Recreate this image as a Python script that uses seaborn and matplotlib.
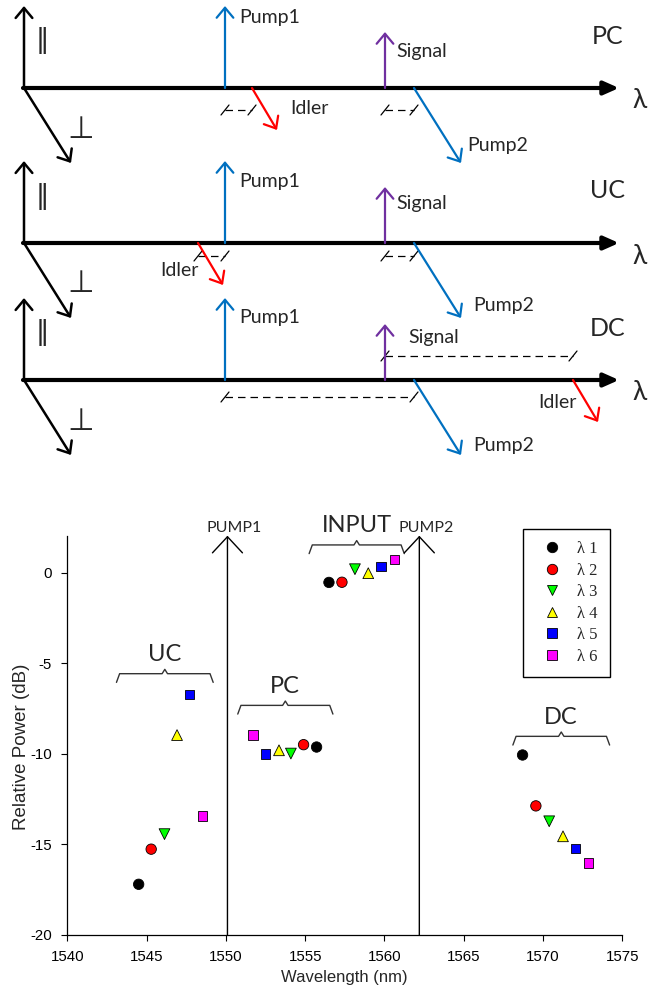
import matplotlib
matplotlib.use("Agg")
import matplotlib.pyplot as plt
import pandas as pd
import seaborn as sns

# ---------------------------------------------------------------- data ----
CHANNELS = ["λ 1", "λ 2", "λ 3", "λ 4", "λ 5", "λ 6"]

UC_WAVELENGTH = [1544.50, 1545.29, 1546.13, 1546.92, 1547.69, 1548.51]
UC_POWER = [-17.20, -15.26, -14.43, -8.96, -6.73, -13.44]
PC_WAVELENGTH = [1555.72, 1554.90, 1554.10, 1553.35, 1552.51, 1551.71]
PC_POWER = [-9.62, -9.49, -9.98, -9.80, -10.00, -8.96]
INPUT_WAVELENGTH = [1556.50, 1557.32, 1558.14, 1558.98, 1559.78, 1560.62]
INPUT_POWER = [-0.53, -0.52, 0.20, -0.02, 0.35, 0.73]
DC_WAVELENGTH = [1568.71, 1569.55, 1570.39, 1571.26, 1572.06, 1572.87]
DC_POWER = [-10.06, -12.87, -13.72, -14.55, -15.21, -16.03]

GROUPS = ["UC", "PC", "INPUT", "DC"]
PUMPS = ["PUMP1", "PUMP2"]
PUMP_WAVELENGTH = [1550.1, 1562.2]

X_TICKS = [1540, 1545, 1550, 1555, 1560, 1565, 1570, 1575]
Y_TICKS = [0, -5, -10, -15, -20]

# schematic: slot of every wave along the sketched λ axis (sketch units)
SCHEMES = ["PC", "UC", "DC"]
POS_PUMP1 = 225
POS_SIGNAL = 385
POS_PUMP2 = 414
POS_IDLER = [252, 198, 573]

# ------------------------------------------------------------- styling ----
CH_COLORS = ["#000000", "#FF0000", "#00FF00", "#FFFF00", "#0000FF", "#FF00FF"]
CH_MARKERS = ["o", "o", "v", "^", "s", "s"]
CH_SIZES = [56, 56, 60, 60, 46, 46]

BLUE = "#0070C0"
PURPLE = "#7030A0"
RED = "#FF0000"
SK_FONT = ["Lato", "DejaVu Sans"]
PLOT_FONT = ["Liberation Sans", "DejaVu Sans"]

sns.set_style("ticks")
plt.rcParams["font.family"] = PLOT_FONT

W, H = 649, 989
fig = plt.figure(figsize=(W / 100, H / 100), dpi=100)

# ---------------------------------------------------- schematic layer ----
sk = fig.add_axes([0, 0, 1, 1])
sk.set_xlim(0, W)
sk.set_ylim(H, 0)
sk.axis("off")
sk.patch.set_visible(False)

OPEN_HEAD = "->,head_length=0.36,head_width=0.3"
AXIS_HEAD = "-|>,head_length=0.45,head_width=0.2"


def arrow(ax, start, end, color, lw, style=OPEN_HEAD):
    ax.annotate("", xy=end, xytext=start, annotation_clip=False,
                arrowprops=dict(arrowstyle=style, color=color, lw=lw,
                                shrinkA=0, shrinkB=0, mutation_scale=20))


def spacing_mark(ax, x0, x1, y):
    ax.plot([x0, x1], [y, y], color="black", lw=0.9, linestyle=(0, (6, 4)))
    for x in (x0, x1):
        ax.plot([x - 4, x + 4], [y + 5, y - 5], color="black", lw=0.9)


SCHEME_BASE = [88, 243, 380]
ORIGIN_X = 24
AXIS_END = 619
UP_LEN = 82
SIGNAL_LEN = 56
TILT = (47, 75)
IDLER_TILT = (25, 42)

LABEL_OFFSETS = {
    "PC": {"Pump1": (239, -71), "Signal": (396, -36), "Idler": (290, 20), "Pump2": (467, 57)},
    "UC": {"Pump1": (239, -61), "Signal": (396, -40), "Idler": (160, 27), "Pump2": (473, 62)},
    "DC": {"Pump1": (239, -62), "Signal": (408, -42), "Idler": (538, 23), "Pump2": (473, 65)},
}
SPACING_MARKS = {
    "PC": [(POS_PUMP1, 0, 22), (POS_SIGNAL, POS_PUMP2, 22)],
    "UC": [(1, POS_PUMP1, 13), (POS_SIGNAL, POS_PUMP2, 13)],
    "DC": [(POS_SIGNAL, 2, -24), (POS_PUMP1, POS_PUMP2, 17)],
}

for i, name in enumerate(SCHEMES):
    b = SCHEME_BASE[i]
    idler = POS_IDLER[i]
    # λ axis and the two polarisation axes
    arrow(sk, (ORIGIN_X - 1, b), (AXIS_END, b), "black", 3.0, AXIS_HEAD)
    arrow(sk, (ORIGIN_X, b), (ORIGIN_X, b - UP_LEN), "black", 1.8)
    arrow(sk, (ORIGIN_X, b), (ORIGIN_X + TILT[0], b + TILT[1]), "black", 1.8)
    sk.text(ORIGIN_X + 18, b - 47, "‖", fontsize=19, ha="center", va="center",
            family="DejaVu Sans")
    sk.text(ORIGIN_X + 57, b + 41, "⊥", fontsize=22, ha="center", va="center",
            family="DejaVu Sans")
    # waves
    arrow(sk, (POS_PUMP1, b), (POS_PUMP1, b - UP_LEN), BLUE, 1.6)
    arrow(sk, (POS_SIGNAL, b), (POS_SIGNAL, b - SIGNAL_LEN), PURPLE, 1.6)
    arrow(sk, (POS_PUMP2, b), (POS_PUMP2 + TILT[0], b + TILT[1]), BLUE, 1.6)
    arrow(sk, (idler, b), (idler + IDLER_TILT[0], b + IDLER_TILT[1]), RED, 1.6)
    for label, (lx, dy) in LABEL_OFFSETS[name].items():
        sk.text(lx, b + dy, label, fontsize=14, ha="left", va="center", family=SK_FONT)
    sk.text(608, b - 52, name, fontsize=18, ha="center", va="center", family=SK_FONT)
    sk.text(640, b + 13, "λ", fontsize=19, ha="center", va="center", family=SK_FONT)
    # equal-spacing marks
    for x0, x1, dy in SPACING_MARKS[name]:
        x0 = idler if x0 in (1, 2) else x0
        x1 = idler if x1 in (0, 2) else x1
        spacing_mark(sk, x0, x1, b + dy)

# --------------------------------------------------------- measured plot ----
frames = []
for g, wl, pw in zip(GROUPS,
                     [UC_WAVELENGTH, PC_WAVELENGTH, INPUT_WAVELENGTH, DC_WAVELENGTH],
                     [UC_POWER, PC_POWER, INPUT_POWER, DC_POWER]):
    frames.append(pd.DataFrame({"group": g, "channel": CHANNELS,
                                "wavelength": wl, "power": pw}))
df = pd.concat(frames, ignore_index=True)

ax = fig.add_axes([67.3 / W, 1 - 935 / H, 555 / W, 399.3 / H])
sns.scatterplot(data=df, x="wavelength", y="power",
                hue="channel", style="channel", size="channel",
                hue_order=CHANNELS, style_order=CHANNELS, size_order=CHANNELS,
                palette=dict(zip(CHANNELS, CH_COLORS)),
                markers=dict(zip(CHANNELS, CH_MARKERS)),
                sizes=dict(zip(CHANNELS, CH_SIZES)),
                edgecolor="black", linewidth=0.6, ax=ax, zorder=3, clip_on=False)

ax.set_xlim(1540, 1575)
ax.set_ylim(-20, 2.05)
ax.set_xticks(X_TICKS)
ax.set_yticks(Y_TICKS)
ax.set_xticklabels([str(t) for t in X_TICKS])
ax.set_yticklabels([str(t) for t in Y_TICKS])
ax.tick_params(direction="out", length=4, width=0.8, pad=7, labelsize=10.8,
               colors="black")
for side in ("top", "right"):
    ax.spines[side].set_visible(False)
for side in ("left", "bottom"):
    ax.spines[side].set_linewidth(0.9)
    ax.spines[side].set_color("black")
ax.set_xlabel("Wavelength (nm)", fontsize=12, labelpad=4)
ax.set_ylabel("Relative Power (dB)", fontsize=13.5)
ax.yaxis.set_label_coords(-0.067, 0.471)

# pump lines with open arrow heads
for name, wl in zip(PUMPS, PUMP_WAVELENGTH):
    ax.annotate("", xy=(wl, 2.05), xytext=(wl, -20), annotation_clip=False,
                arrowprops=dict(arrowstyle="->,head_length=0.58,head_width=0.54",
                                lw=1.0, color="black", shrinkA=0, shrinkB=0,
                                mutation_scale=20))
    ax.text(wl + 0.45, 2.48, name, fontsize=11.5, ha="center", va="center",
            family=SK_FONT, clip_on=False)

# braces over each group of idlers
BRACE_SPAN = [(1543.1, 1549.2), (1550.75, 1556.75), (1555.25, 1561.25), (1568.1, 1574.2)]
BRACE_LEVEL = [-5.57, -7.32, 1.54, -9.03]
for g, (x0, x1), y in zip(GROUPS, BRACE_SPAN, BRACE_LEVEL):
    xc = (x0 + x1) / 2
    xs = [x0, x0 + 0.2, xc - 0.17, xc, xc + 0.17, x1 - 0.2, x1]
    ys = [y - 0.48, y, y, y + 0.24, y, y, y - 0.48]
    ax.plot(xs, ys, color="#333333", lw=1.0, clip_on=False)
    ax.annotate(g, xy=(xc, y + 0.24), xytext=(0, 6), textcoords="offset points",
                ha="center", va="baseline", fontsize=17, family=SK_FONT,
                annotation_clip=False)

# legend
old = ax.get_legend()
handles = [h for h, t in zip(old.legend_handles, old.get_texts()) if t.get_text() in CHANNELS]
labels = [t.get_text() for t in old.get_texts() if t.get_text() in CHANNELS]
old.remove()
leg = ax.legend(handles, labels, loc="upper left",
                bbox_to_anchor=(523.3 / W, 1 - 529 / H), bbox_transform=fig.transFigure,
                frameon=True, fancybox=False, framealpha=1, edgecolor="black",
                borderpad=0.74, handlelength=1.92, handletextpad=0.59,
                labelspacing=0.33, borderaxespad=0,
                prop={"family": "Liberation Serif", "size": 12})
leg.get_frame().set_linewidth(1.0)

fig.savefig("out.png", dpi=100)
